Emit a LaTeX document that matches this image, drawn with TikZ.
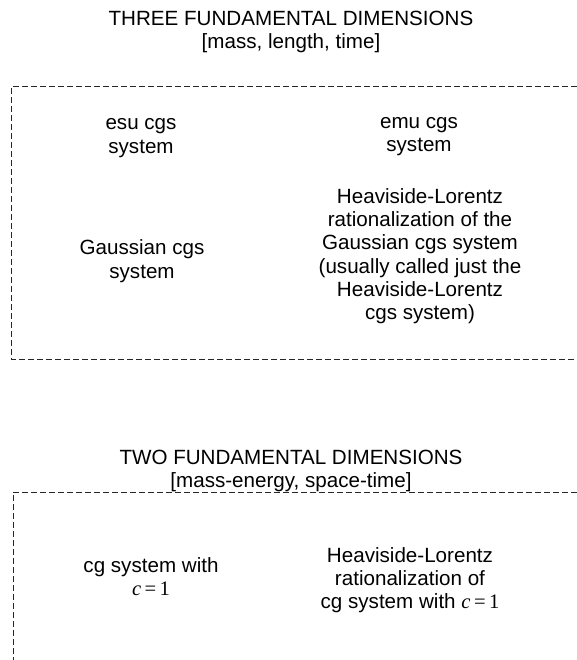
\documentclass[tikz,border=0pt]{standalone}
\usepackage{fontspec}
\setmainfont{Liberation Sans}
\newfontfamily\tmsfont{Liberation Serif}
% c = 1 set in a Times-like face
\newcommand{\ceqone}{{\tmsfont\itshape c}\,{\tmsfont =\,1}}
\begin{document}
\begin{tikzpicture}[x=1pt,y=-1pt,
  lbl/.style={align=center,anchor=north,inner sep=0pt,
    font=\fontsize{20.6}{23.3}\selectfont},
  frame/.style={draw=black!85,line width=1pt,dash pattern=on 6pt off 3pt}]
\useasboundingbox (0,0) rectangle (577,660);

% upper group: three fundamental dimensions
\node[lbl] (t1) at (291,8.7) {\strut THREE FUNDAMENTAL DIMENSIONS\\\strut[mass, length, time]};
\coordinate (a1) at (577,87);
\coordinate (a2) at (11,87);
\coordinate (a3) at (11,359);
\coordinate (a4) at (577,359);
\draw[frame] (a1) -- (a2) -- (a3) -- (a4);
\node[lbl] (esu) at (141,113.2) {\strut esu cgs\\\strut system};
\node[lbl] (emu) at (419,111.7) {\strut emu cgs\\\strut system};
\node[lbl] (gau) at (142,238.2) {\strut Gaussian cgs\\\strut system};
\node[lbl] (hl) at (420,186.7) {\strut Heaviside-Lorentz\\\strut rationalization of the\\
  \strut Gaussian cgs system\\\strut(usually called just the\\\strut Heaviside-Lorentz\\
  \strut cgs system)};

% lower group: two fundamental dimensions
\node[lbl] (t2) at (291,447.7) {\strut TWO FUNDAMENTAL DIMENSIONS\\\strut[mass-energy, space-time]};
\coordinate (b1) at (577,492);
\coordinate (b2) at (13,492);
\coordinate (b3) at (13,660);
\draw[frame] (b1) -- (b2) -- (b3);
\node[lbl] (cg) at (151,555.7) {\strut cg system with\\\strut\ceqone};
\node[lbl] (hlcg) at (410,545.7) {\strut Heaviside-Lorentz\\\strut rationalization of\\
  \strut cg system with \ceqone};
\end{tikzpicture}
\end{document}
